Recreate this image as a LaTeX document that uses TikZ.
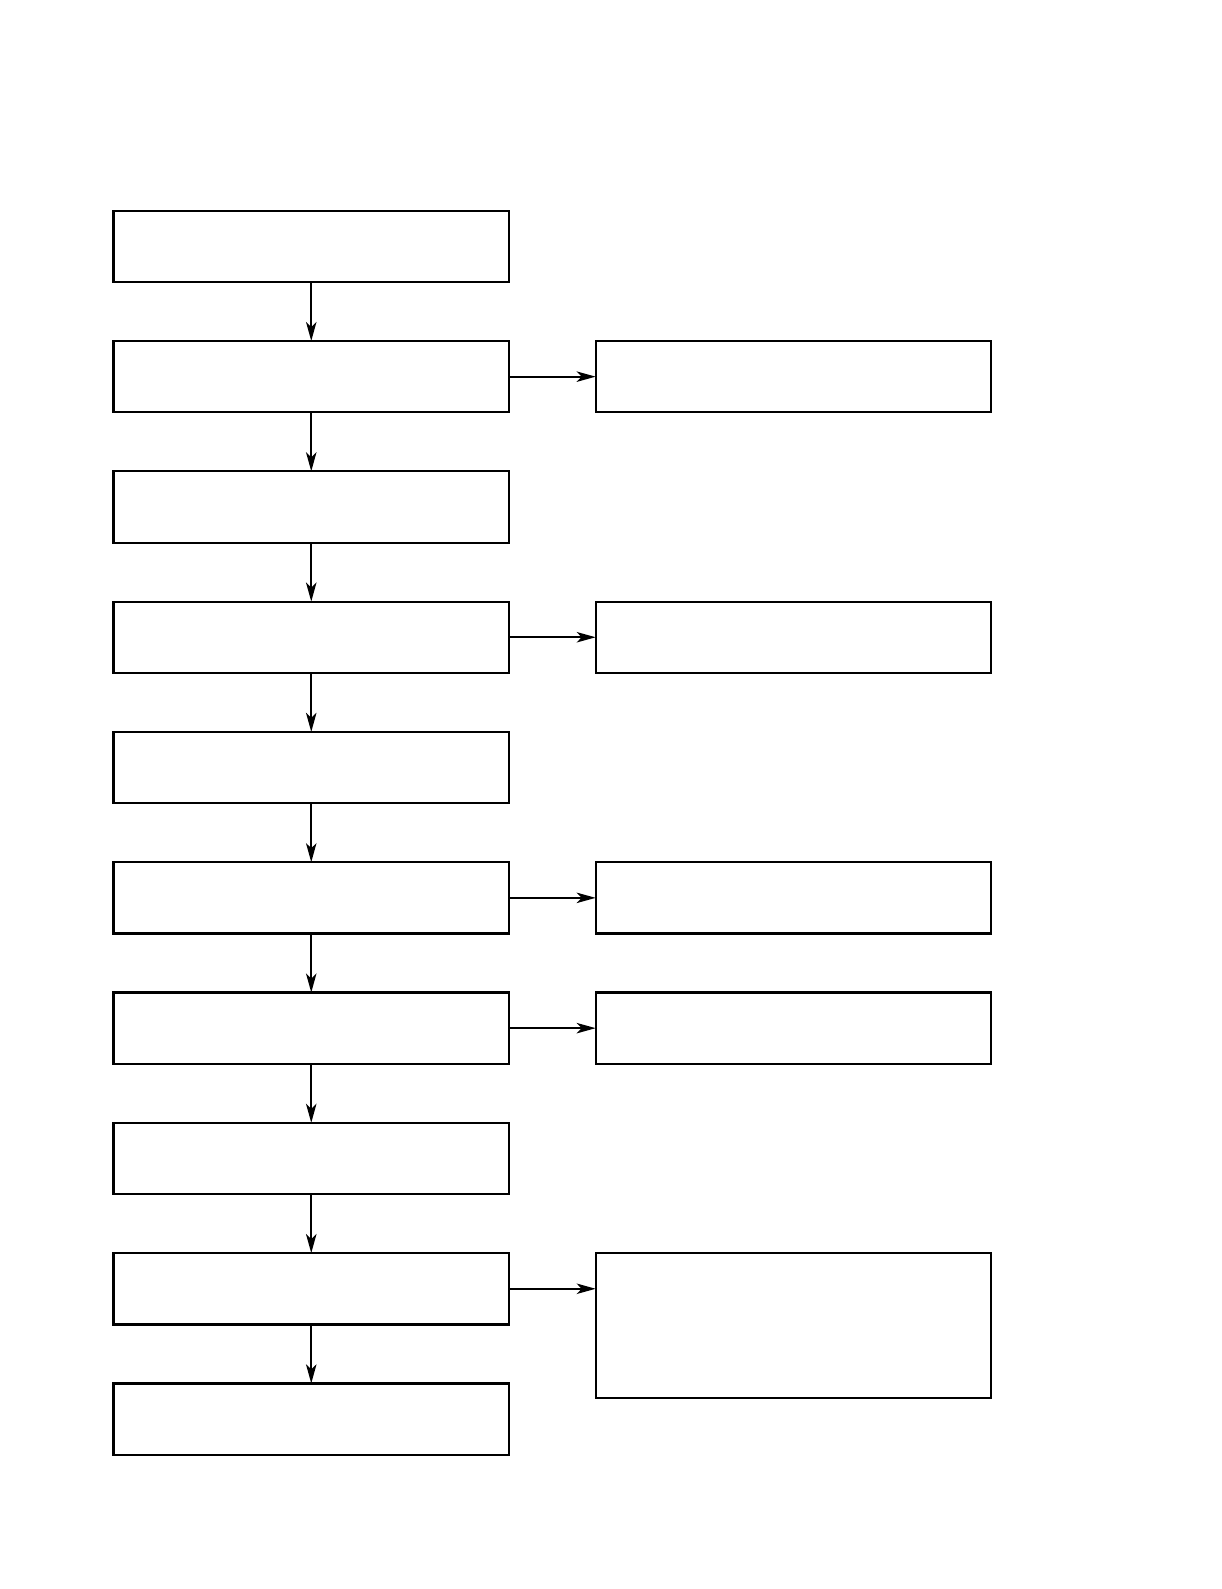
\documentclass[tikz,border=0pt]{standalone}
\usetikzlibrary{positioning,arrows.meta}
\tikzset{
	stepbox/.style={draw, line width=1.1pt, minimum width=197.75pt, minimum height=35.65pt, inner sep=0pt, outer sep=0pt},
	tallbox/.style={stepbox, minimum height=72.5pt},
	flow/.style={-{Stealth[length=9.5pt,width=5.2pt,inset=2.5pt]}, line width=1.1pt}
}
\begin{document}
\begin{tikzpicture}[line join=miter, node distance=29.5pt and 43.35pt]
	\useasboundingbox (0,0) rectangle (610.5pt,-794.5pt);
	% Main column
	\node[stepbox, anchor=north west] (s1) at (56.75pt,-105.35pt) {};
	\node[stepbox, below=of s1] (s2) {};
	\node[stepbox, below=of s2] (s3) {};
	\node[stepbox, below=of s3] (s4) {};
	\node[stepbox, below=of s4] (s5) {};
	\node[stepbox, below=of s5] (s6) {};
	\node[stepbox, below=of s6] (s7) {};
	\node[stepbox, below=of s7] (s8) {};
	\node[stepbox, below=of s8] (s9) {};
	\node[stepbox, below=of s9] (s10) {};
	
	% Side boxes
	\node[stepbox, right=of s2] (r2) {};
	\node[stepbox, right=of s4] (r4) {};
	\node[stepbox, right=of s6] (r6) {};
	\node[stepbox, right=of s7] (r7) {};
	\node[tallbox, right=43.35pt of s9.north east, anchor=north west] (r9) {};
	
	% Down arrows
	\foreach \a/\b in {s1/s2, s2/s3, s3/s4, s4/s5, s5/s6, s6/s7, s7/s8, s8/s9, s9/s10}
		\draw[flow] (\a.south) -- (\b.north);
	
	% Side arrows
	\draw[flow] (s2.east) -- (r2.west);
	\draw[flow] (s4.east) -- (r4.west);
	\draw[flow] (s6.east) -- (r6.west);
	\draw[flow] (s7.east) -- (r7.west);
	\draw[flow] (s9.east) -- (s9.east -| r9.west);
\end{tikzpicture}
\end{document}
